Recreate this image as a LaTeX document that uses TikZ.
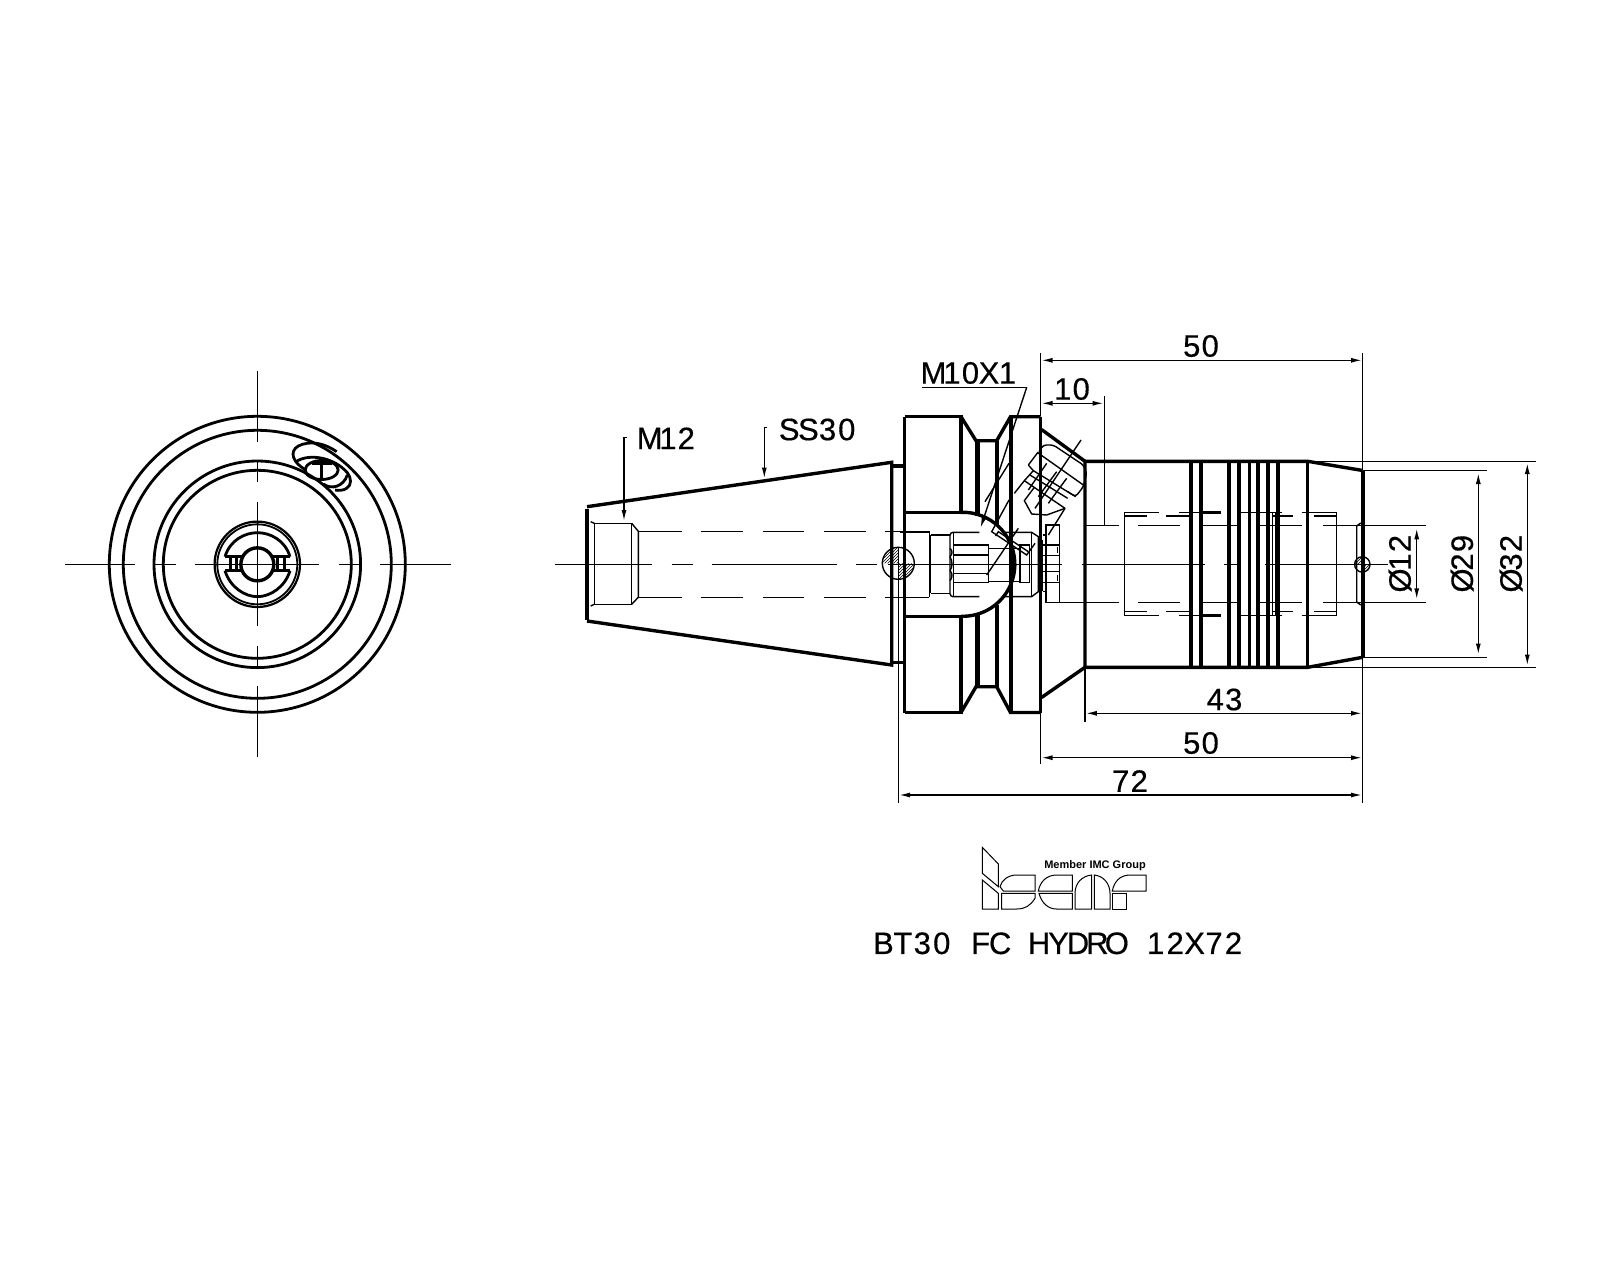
\documentclass[tikz,border=0pt]{standalone}
\usepackage{fontspec}
\setmainfont{Liberation Sans}
\newfontfamily\cadf{Liberation Sans}[FakeBold=0.4]
\usetikzlibrary{arrows.meta,patterns}
\ExplSyntaxOn
\NewDocumentCommand\cadt{O{19.3pt}m}{\str_map_inline:nn{#2}{\makebox[#1]{##1}}}
\ExplSyntaxOff
\tikzset{
  thk/.style={line width=3.4pt,line join=miter},
  med/.style={line width=2.8pt},
  thn/.style={line width=1.4pt},
  hair/.style={line width=1pt},
  dim/.style={line width=1.4pt,{Latex[length=11pt,width=5pt]}-{Latex[length=11pt,width=5pt]}},
  lead/.style={line width=1.4pt,-{Latex[length=11pt,width=5pt]}},
  lbl/.style={inner sep=0pt,font=\cadf\fontsize{31}{31}\selectfont},
  z3/.style={shift={(900,340)},x=0.33333pt,y=-0.33333pt},
  z4/.style={shift={(900,520)},x=0.33333pt,y=-0.33333pt},
  z5/.style={shift={(1090,440)},x=0.33333pt,y=-0.33333pt},
  z6/.style={shift={(860,830)},x=0.33333pt,y=-0.33333pt},
  z10/.style={shift={(200,500)},x=0.33333pt,y=-0.33333pt},
  z11/.style={shift={(270,420)},x=0.33333pt,y=-0.33333pt},
  z12/.style={shift={(985,440)},x=0.33333pt,y=-0.33333pt},
}
\begin{document}
\begin{tikzpicture}[x=1pt,y=-1pt]
\fill[white] (0,0) rectangle (1600,1280);
\useasboundingbox (0,0) rectangle (1600,1280);

%% ---------- end view ----------
\coordinate (c) at (257.3,564.3);
\foreach \r in {148,134,103.3,94} \draw[med] (c) circle[radius=\r pt];
\draw[line width=2.2pt] (c) circle[radius=42.7pt];
\draw[line width=1.8pt] (c) circle[radius=40pt];
\draw[thn] (65,564.3)--(135,564.3) (155,564.3)--(176,564.3) (195,564.3)--(319,564.3) (339,564.3)--(360,564.3) (380,564.3)--(451,564.3);
\draw[thn] (257.3,371)--(257.3,442) (257.3,462)--(257.3,482) (257.3,502)--(257.3,626) (257.3,646)--(257.3,667) (257.3,686)--(257.3,757);
\begin{scope}[z10]
  \draw[line width=3.4pt] (172,193) circle[radius=16.5pt];
  \draw[med] (75,170)--(125,170) (220,170)--(270,170) (75,212)--(125,212) (220,212)--(270,212);
  \draw[med] (92,170)--(92,212) (110,170)--(110,212) (232,170)--(232,212) (253,170)--(253,212);
  \draw[med] (75,170) .. controls (90,120) and (135,98) .. (172,98) .. controls (210,98) and (255,120) .. (270,170);
  \draw[med] (75,212) .. controls (90,262) and (135,290) .. (172,290) .. controls (210,290) and (255,262) .. (270,212);
\end{scope}
\begin{scope}[z11]
  \draw[med] (155,150) ellipse[x radius=16.5pt,y radius=9.5pt];
  \draw[med] (125,130)--(185,130) (155,130)--(155,178);
  \draw[med] (108,150) .. controls (70,130) and (55,95) .. (85,78) .. controls (120,60) and (165,70) .. (200,95);
  \draw[med] (78,125) .. controls (115,100) and (190,110) .. (232,158) .. controls (245,175) and (245,195) .. (230,205) .. controls (220,212) and (205,212) .. (195,210);
  \draw[med] (160,192) .. controls (185,210) and (220,200) .. (232,165);
\end{scope}

%% ---------- side view: taper ----------
\draw[line width=4.4pt] (586.7,508.5)--(586.7,619.5);
\draw[thk] (587,506.7)--(891.7,462.3)--(891.7,665)--(587,621);
\draw[thk] (891.7,466)--(904.5,466) (891.7,662.7)--(904.5,662.7);
\draw[thn] (590.7,521.7)--(594.3,523.3) (590.7,606)--(594.3,604.3);
\draw[thn] (594.3,523.3) rectangle (631.7,604.3);
\draw[thn] (631.7,523.3)--(638.3,531.3)--(638.3,597.3)--(631.7,604.3);
\foreach \a/\b in {638/681.7,701/742.7,763.3/804.3,824/865.7,885/929.3}{
  \draw[thn] (\a,531.3)--(\b,531.3) (\a,597.3)--(\b,597.3);
}
\draw[thn] (929.3,531.3)--(929.3,597.3);
%% centre line
\draw[thn] (555,564.3)--(651.7,564.3) (671.7,564.3)--(693.3,564.3) (711.7,564.3)--(836.7,564.3) (856,564.3)--(876.7,564.3) (888,564.3)--(1061.7,564.3) (1081.7,564.3)--(1205,564.3) (1224,564.3)--(1236.7,564.3) (1265,564.3)--(1388,564.3);

%% flange
\draw[thk] (904.5,416.7)--(904.5,712.5);
\draw[thk] (904.5,416.7)--(961,416.7)--(961,512.3);
\draw[thk] (904.5,712.5)--(961,712.5)--(961,616.7);
\draw[thk] (904.5,512.3)--(961,512.3) (904.5,616.7)--(961,616.7);
\draw[thk] (961,416.7)--(976,440.7)--(996.7,440.7)--(1010.5,416.7)--(1040.7,416.7);
\draw[thk] (961,712.5)--(976,686.7)--(996.7,686.7)--(1010.5,712.5)--(1040.7,712.5);
\draw[line width=5pt] (977,440.7)--(977,516) (977,613)--(977,686.7);
\draw[line width=4.4pt] (996.7,440.7)--(996.7,525) (996.7,605)--(996.7,686.7);
\draw[thk] (1011,416.7)--(1011,712.5);
\draw[thk] (1040.7,416.7)--(1040.7,712.5);
\draw[line width=5pt] (1040.7,540)--(1040.7,591);
\draw[thk] (961,512.3) arc[start angle=92,end angle=-92,radius=52pt];
\draw[thk] (1041.5,429.5)--(1085,461.3)--(1085,667.3);
\draw[thk] (1041.5,697.5)--(1085,667.3);

%% hatched pin
\draw[thn] (898.3,563.3) circle[radius=16pt];
\fill[pattern=north east lines,pattern color=black] (898.3,563.3)--(882.3,563.3) arc[start angle=180,end angle=90,radius=16pt]--cycle;
\fill[pattern=north east lines,pattern color=black] (898.3,563.3)--(914.3,563.3) arc[start angle=0,end angle=-90,radius=16pt]--cycle;
\draw[thn] (898.3,547.3)--(898.3,579.3);

%% internals
\begin{scope}[z4]
  \draw[thn] (0,37)--(88,37) (0,232)--(88,232) (88,37)--(88,232) (92,45)--(92,220);
  \draw[thn] (92,45)--(150,45) (92,220)--(150,220);
  \draw[thn,rounded corners=3pt] (238,37)--(150,37)--(150,230)--(238,230);
  \draw[thn] (160,37)--(160,230);
  \draw[thn] (160,75) rectangle (266,187);
  \draw[thn] (160,105)--(266,105) (160,160)--(266,160);
  \draw[thn] (266,85)--(360,85) (266,185)--(360,185);
  \draw[thn] (150,85) .. controls (158,92) and (158,102) .. (150,110) (150,110) .. controls (158,125) and (158,140) .. (150,152) (150,152) .. controls (158,160) and (158,172) .. (150,182);
  \draw[thn] (310,37)--(395,37)--(415,50)--(415,215)--(395,230)--(310,230);
  \draw[thn] (395,37)--(395,230);
  \draw[thn] (360,75) rectangle (388,187);
  \draw[thn] (438,15) rectangle (478,248);
  \draw[thn] (478,248)--(555,248) (428,45)--(438,45) (428,215)--(438,215);
  \draw[thn] (428,75)--(478,75) (428,107)--(478,107) (428,155)--(478,155) (428,187)--(478,187);
  \draw[thn] (472,80)--(472,100) (472,165)--(472,182);
\end{scope}
%% angled screw
\begin{scope}[z12]
  \draw[thn,rounded corners=3pt] (162,35)--(175,15)--(205,15)--(295,75)--(305,100)--(295,140)--(272,170)--(248,155);
  \draw[thn] (130,75)--(158,38)--(295,135);
  \draw[thn] (130,75)--(145,92)--(118,122)--(88,160);
  \draw[thn] (145,92)--(272,170);
  \draw[thn] (135,105)--(248,175);
  \draw[thn] (118,122)--(240,205);
  \draw[thn] (148,142)--(118,182)--(140,222)--(185,225)--(240,205);
  \draw[thn] (185,70)--(130,150) (215,95)--(160,170) (245,115)--(190,190);
  \draw[thn] (72,180)--(20,275)--(125,345)--(150,310);
  \draw[thn] (240,205)--(190,285);
  \draw[thn] (32,288)--(40,275)--(130,335);
  \draw[thn] (288,0)--(150,205) (100,265)--(5,405);
  \draw[thn] (0,185)--(72,70);
\end{scope}

%% tool body
\draw[thk] (1085,461.3)--(1307.7,461.3)--(1362.7,470.5);
\draw[thk] (1085,667.3)--(1307.7,667.3)--(1362.7,657.3);
\foreach \x/\w in {1191/3.5,1200.7/4,1229.3/4,1239.3/4,1249/3,1258.3/4,1268.3/4,1278/3.5,1307.7/3}{
  \draw[line width=\w pt] (\x,461.3)--(\x,667.3);
}
\draw[line width=4.4pt] (1362.7,470.5)--(1362.7,657.3);
\draw[thn] (1360.7,523)--(1356.7,526)--(1356.7,602)--(1360.7,605);
\draw[thn] (1362.3,564.4) circle[radius=7.7pt];
\fill[pattern=north east lines,pattern color=black] (1362.3,564.4)--(1354.6,564.4) arc[start angle=180,end angle=90,radius=7.7pt]--cycle;
\fill[pattern=north east lines,pattern color=black] (1362.3,564.4)--(1370,564.4) arc[start angle=0,end angle=-90,radius=7.7pt]--cycle;
\begin{scope}[z5]
  \foreach \a/\b in {103/207,268/392,445/575,635/740}{\draw[thn] (\a,217)--(\b,217) (\a,526)--(\b,526);}
  \draw[line width=2.4pt] (330,217)--(392,217) (330,526)--(392,526);
  \foreach \a/\b in {103/170,228/300,550/610,672/740}{\draw[thn] (\a,228)--(\b,228) (\a,515)--(\b,515);}
  \draw[thn] (103,217)--(103,526) (740,217)--(740,526);
  \draw[thn] (548,217)--(548,526) (556,217)--(556,526);
  \foreach \a/\b in {0/87,145/270,338/445,500/637}{\draw[thn] (\a,256)--(\b,256) (\a,487)--(\b,487);}
  \draw[thn] (700,256)--(1008,256) (700,487)--(1008,487);
\end{scope}
\draw[thn] (1085,525.3)--(1090,525.3) (1085,602.3)--(1090,602.3);

%% extension and dimension lines
\draw[thn] (1040.7,353)--(1040.7,416) (1040.7,698)--(1040.7,764);
\draw[thn] (1362.7,353)--(1362.7,470) (1362.7,657)--(1362.7,802.5);
\draw[thn] (898.3,579)--(898.3,802.5);
\draw[thn] (1085,668)--(1085,721.7);
\draw[thn] (1104.3,396)--(1104.3,525.3);
\draw[thn] (1307.7,461.3)--(1536,461.3) (1307.7,667.3)--(1536,667.3);
\draw[thn] (1362.7,470.3)--(1486.7,470.3) (1362.7,657.3)--(1486.7,657.3);
\draw[dim] (1041.5,360.3)--(1362,360.3);
\draw[dim] (1041.5,403.3)--(1103.5,403.3);
\draw[dim] (1085.8,713.3)--(1362,713.3);
\draw[dim] (1041.5,757.7)--(1362,757.7);
\draw[dim] (899,795)--(1362,795);
\draw[dim] (1527.3,463)--(1527.3,665.5);
\draw[dim] (1478.3,473)--(1478.3,654.5);
\draw[dim] (1416.7,528.3)--(1416.7,599.3);
\draw[thn] (626.7,437.3)--(624,437.3);
\draw[lead] (624,437.3)--(624,521);
\draw[thn] (767,427.3)--(764.3,427.3);
\draw[lead] (764.3,427.3)--(764.3,478.5);
\draw[thn] (922,387.3)--(1026.7,387.3);
\draw[lead] (1026.7,387.3)--(980.5,528);

%% labels
\node[lbl] (m12) at (668,438.3) {\cadt[18.3pt]{M12}};
\node[lbl] (ss30) at (818,429.5) {\cadt[19.2pt]{SS30}};
\node[lbl] (m10) at (970.5,373) {\cadt[18.5pt]{M10X1}};
\node[lbl] (d50a) at (1201,346) {\cadt[18.5pt]{50}};
\node[lbl] (d10) at (1072,389) {\cadt[18.5pt]{10}};
\node[lbl] (d43) at (1224.5,699.5) {\cadt[18.5pt]{43}};
\node[lbl] (d50b) at (1201,743) {\cadt[18.5pt]{50}};
\node[lbl] (d72) at (1130,781) {\cadt[18.5pt]{72}};
\node[lbl,rotate=90] (p12) at (1400,562) {\cadt[18.5pt]{Ø12}};
\node[lbl,rotate=90] (p29) at (1462.2,562) {\cadt[18.5pt]{Ø29}};
\node[lbl,rotate=90] (p32) at (1511,562) {\cadt[18.5pt]{Ø32}};
\node[lbl] (title) at (1058.5,943.3) {\cadt[19.45pt]{BT30 FC HYDRO 12X72}};

%% logo
\begin{scope}[z6]
  \draw[hair] (367,52)--(415,102)--(415,170)--(367,130)--cycle;
  \draw[hair] (367,150)--(415,190)--(415,237)--(367,237)--cycle;
  \draw[hair] (420,170) .. controls (425,150) and (445,135) .. (470,135)--(525,135)--(525,183)--(430,183)--cycle;
  \draw[hair] (425,190)--(525,190)--(525,205) .. controls (510,228) and (495,237) .. (470,237)--(425,237)--cycle;
  \draw[hair] (535,183) .. controls (540,155) and (560,135) .. (590,135)--(637,135)--(637,183)--cycle;
  \draw[hair] (537,190) .. controls (545,220) and (565,237) .. (590,237)--(637,237)--(637,190)--cycle;
  \draw[hair] (645,237)--(645,190) .. controls (645,160) and (665,138) .. (695,135)--(695,237)--cycle;
  \draw[hair] (703,237)--(703,135) .. controls (730,138) and (750,160) .. (750,190)--(750,237)--cycle;
  \draw[hair] (757,237)--(757,190)--(800,190)--(800,237)--cycle;
  \draw[hair] (757,183) .. controls (762,155) and (780,135) .. (810,135)--(858,135)--(858,183)--cycle;
\end{scope}
\node[inner sep=0pt,font=\bfseries\fontsize{11}{12}\selectfont] (imc) at (1095,865.5) {Member IMC Group};
\end{tikzpicture}
\end{document}
